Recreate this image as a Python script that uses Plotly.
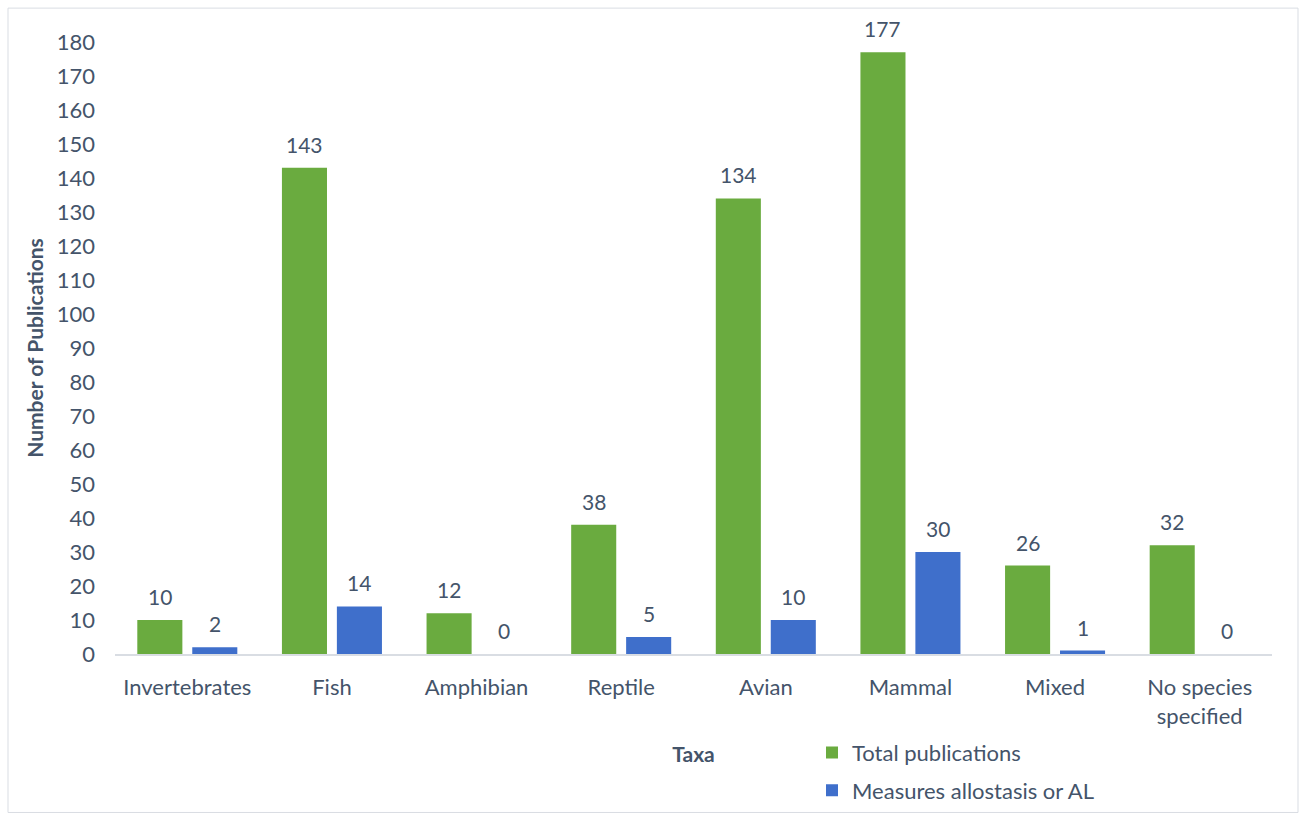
import plotly.graph_objects as go

categories = ["Invertebrates", "Fish", "Amphibian", "Reptile", "Avian", "Mammal", "Mixed", "No species<br>specified"]
total_pubs = [10, 143, 12, 38, 134, 177, 26, 32]
measures_al = [2, 14, 0, 5, 10, 30, 1, 0]
series_names = ["Total publications", "Measures allostasis or AL"]
y_ticks = list(range(0, 181, 10))

W, H = 1305, 823
ML, MR, MT, MB = 115, 33, 42, 167
PW = W - ML - MR
PH = H - MT - MB

FONT = "Lato, Calibri, sans-serif"
FS = 22
TXT = "#44546a"
GREEN = "#6aab3f"
BLUE = "#3f6fcb"

fig = go.Figure()
fig.add_trace(go.Bar(x=categories, y=total_pubs, name=series_names[0],
                     marker=dict(color=GREEN, line=dict(width=0)), legend="legend"))
fig.add_trace(go.Bar(x=categories, y=measures_al, name=series_names[1],
                     marker=dict(color=BLUE, line=dict(width=0)), legend="legend2"))

annotations = []
for vals, shift in ((total_pubs, -27.5), (measures_al, 27.5)):
    for c, v in zip(categories, vals):
        annotations.append(dict(x=c, y=v, text=str(v), xref="x", yref="y",
                                showarrow=False, yanchor="bottom", xshift=shift,
                                yshift=9, font=dict(family=FONT, size=FS - 1, color=TXT)))

legend_x = (812 - ML) / PW
fig.update_layout(
    width=W, height=H,
    margin=dict(l=ML, r=MR, t=MT, b=MB),
    paper_bgcolor="white", plot_bgcolor="white",
    barmode="group", bargap=0.24, bargroupgap=0.18,
    font=dict(family=FONT, size=FS, color=TXT),
    annotations=annotations,
    legend=dict(x=legend_x, y=-(755 - (H - MB)) / PH, xanchor="left", yanchor="middle",
                font=dict(family=FONT, size=FS, color=TXT), bgcolor="rgba(0,0,0,0)"),
    legend2=dict(x=legend_x, y=-(793 - (H - MB)) / PH, xanchor="left", yanchor="middle",
                 font=dict(family=FONT, size=FS, color=TXT), bgcolor="rgba(0,0,0,0)"),
    showlegend=True,
    shapes=[dict(type="rect", xref="paper", yref="paper",
                 x0=(8 - ML) / PW, x1=(1298 - ML) / PW,
                 y0=-(815 - (H - MB)) / PH, y1=1 + (MT - 8) / PH,
                 line=dict(color="#d9dde3", width=1), fillcolor="rgba(0,0,0,0)", layer="below")],
)
fig.update_xaxes(showgrid=False, showline=True, linecolor="#d9dde3", linewidth=2,
                 ticks="", ticklabelstandoff=13, tickfont=dict(family=FONT, size=FS, color=TXT),
                 title=dict(text="<b>Taxa</b>", standoff=19, font=dict(family=FONT, size=FS - 1, color=TXT)))
fig.update_yaxes(range=[0, 180], tickvals=y_ticks, showgrid=False, zeroline=False, showline=False,
                 ticks="", ticklabelstandoff=19, tickfont=dict(family=FONT, size=FS, color=TXT),
                 title=dict(text="<b>Number of Publications</b>", standoff=7,
                            font=dict(family=FONT, size=FS - 1, color=TXT)))

fig.write_html("out.html")
